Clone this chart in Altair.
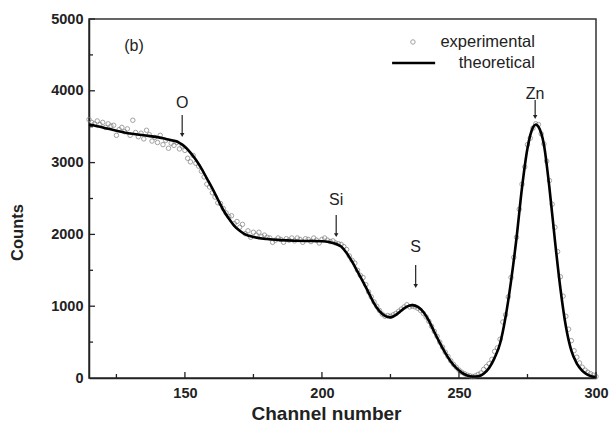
import altair as alt
import pandas as pd

# Theoretical curve (channel, counts)
theo_ch = [115, 120, 125, 130, 135, 140, 143, 146, 148, 150, 152, 154, 156, 158, 160, 162, 164, 166,
           168, 170, 172, 175, 180, 185, 190, 195, 200, 203, 205, 207, 209, 211, 213, 215, 217, 219,
           221, 223, 225, 227, 229, 231, 233, 235, 237, 239, 241, 243, 245, 247, 249, 251, 253, 255,
           257, 259, 261, 263, 265, 267, 269, 271, 273, 275, 277, 278, 279, 281, 283, 285, 287, 289,
           291, 293, 295, 297, 300]
theo_counts = [3530, 3490, 3445, 3405, 3380, 3355, 3330, 3305, 3275, 3220, 3140, 3040, 2920, 2780,
               2640, 2490, 2340, 2220, 2120, 2050, 2000, 1965, 1935, 1920, 1912, 1908, 1905, 1890,
               1870, 1830, 1740, 1620, 1480, 1340, 1190, 1040, 930, 865, 845, 880, 940, 995, 1015,
               990, 920, 800, 640, 490, 350, 230, 140, 75, 35, 20, 25, 60, 140, 280, 480, 850, 1350,
               1950, 2650, 3200, 3490, 3530, 3500, 3250, 2650, 1920, 1250, 720, 380, 200, 100, 45, 10]

# Experimental points, one per channel 115..300
exp_ch = list(range(115, 301))
exp_counts = [3600, 3560, 3540, 3580, 3530, 3560, 3490, 3540, 3510, 3520,
              3380, 3460, 3490, 3430, 3470, 3380, 3590, 3420, 3360, 3410,
              3330, 3450, 3390, 3300, 3350, 3280, 3380, 3250, 3310, 3200,
              3270, 3240, 3280, 3190, 3230, 3170, 3060, 3010, 3100, 2990,
              2950, 2880, 2800, 2700, 2660, 2580, 2520, 2440, 2430, 2360,
              2300, 2250, 2260, 2150, 2180, 2100, 2140, 2010, 2050, 1960,
              2030, 1990, 2030, 1970, 1990, 1960, 1950, 1890, 1920, 1950,
              1930, 1890, 1940, 1920, 1950, 1910, 1950, 1930, 1890, 1940,
              1930, 1900, 1950, 1920, 1880, 1930, 1950, 1920, 1900, 1910,
              1880, 1870, 1860, 1830, 1790, 1700, 1640, 1600, 1500, 1430,
              1400, 1300, 1200, 1130, 1060, 1000, 940, 890, 860, 870,
              860, 880, 900, 930, 960, 990, 1020, 990, 1000, 990,
              970, 940, 900, 850, 790, 720, 650, 580, 500, 430,
              360, 300, 240, 190, 150, 110, 80, 60, 40, 30,
              20, 30, 50, 70, 120, 160, 200, 260, 370, 420,
              540, 780, 880, 1130, 1400, 1680, 1960, 2350, 2700, 2940,
              3250, 3340, 3480, 3540, 3530, 3400, 3260, 3020, 2750, 2420,
              2100, 1760, 1410, 1140, 860, 680, 520, 380, 290, 210,
              150, 110, 80, 60, 40, 20]

# Axis tick values
x_major = [150, 200, 250, 300]
x_minor = [125, 175, 225, 275]
y_major = [1000, 2000, 3000, 4000, 5000]
y_minor = [500, 1500, 2500, 3500, 4500]

# Element annotations
ann_text = ["O", "Si", "S", "Zn"]
ann_x = [149, 205.2, 234.2, 277.8]
ann_y = [3830, 2479, 1825, 3955]
arrow_top = [3663, 2270, 1574, 3872]
arrow_bot = [3384, 1990, 1281, 3635]

panel_label = ["(b)"]
panel_x = [131.4]
panel_y = [4624]

legend_labels = ["experimental", "theoretical"]
legend_text_x = [277.7, 277.7]
legend_y = [4680, 4387]
legend_marker_x = [233.2]
legend_line_x = [225.6]
legend_line_x2 = [241.3]

FONT = "Liberation Sans"
W, H = 507, 359
PT_COLOR = "#7a7a7a"

xs = alt.Scale(domain=[115, 300], nice=False, zero=False)
ys = alt.Scale(domain=[0, 5000], nice=False)

theo_df = pd.DataFrame({"ch": theo_ch, "c": theo_counts})
exp_df = pd.DataFrame({"ch": exp_ch, "c": exp_counts})

base_x = alt.X("ch:Q", scale=xs, title="Channel number",
               axis=alt.Axis(values=x_major, ticks=False, format="d", labelFont=FONT,
                             labelFontSize=14.5, labelFontWeight="bold", labelColor="#222",
                             labelPadding=8, labelFlush=False, titleFont=FONT, titleFontSize=19,
                             titleFontWeight="bold", titleColor="#222", titlePadding=5,
                             domainColor="#222", domainWidth=1.5, grid=False,
                             titleX=237))
base_y = alt.Y("c:Q", scale=ys, title="Counts",
               axis=alt.Axis(values=[0] + y_major, ticks=False, format="d", labelFont=FONT,
                             labelFontSize=14.5, labelFontWeight="bold", labelColor="#222",
                             labelPadding=6, labelFlush=False, titleFont=FONT, titleFontSize=16.5,
                             titleFontWeight="bold", titleColor="#222",
                             titleX=-64, titleY=213, titleBaseline="bottom",
                             domainColor="#222", domainWidth=1.5, grid=False))

exp_layer = alt.Chart(exp_df).mark_point(shape="circle", filled=False, color=PT_COLOR,
                                         size=20, strokeWidth=1).encode(x=base_x, y=base_y)
theo_layer = alt.Chart(theo_df).mark_line(color="black", strokeWidth=2.6,
                                          interpolate="monotone").encode(
    x=alt.X("ch:Q", scale=xs), y=alt.Y("c:Q", scale=ys))

# inward ticks
xt_major = alt.Chart(pd.DataFrame({"v": x_major})).mark_rule(color="#222", strokeWidth=1.3).encode(
    x=alt.X("v:Q", scale=xs), y=alt.value(H), y2=alt.value(H - 6))
xt_minor = alt.Chart(pd.DataFrame({"v": x_minor})).mark_rule(color="#222", strokeWidth=1.3).encode(
    x=alt.X("v:Q", scale=xs), y=alt.value(H), y2=alt.value(H - 4))
yt_major = alt.Chart(pd.DataFrame({"v": y_major})).mark_rule(color="#222", strokeWidth=1.3).encode(
    y=alt.Y("v:Q", scale=ys), x=alt.value(0), x2=alt.value(6))
yt_minor = alt.Chart(pd.DataFrame({"v": y_minor})).mark_rule(color="#222", strokeWidth=1.3).encode(
    y=alt.Y("v:Q", scale=ys), x=alt.value(0), x2=alt.value(4))

ann_df = pd.DataFrame({"t": ann_text, "x": ann_x, "y": ann_y, "a1": arrow_top, "a2": arrow_bot})
ann_txt = alt.Chart(ann_df).mark_text(font=FONT, fontSize=16, color="#222").encode(
    x=alt.X("x:Q", scale=xs), y=alt.Y("y:Q", scale=ys), text="t:N")
ann_rule = alt.Chart(ann_df).mark_rule(color="#222", strokeWidth=1.2).encode(
    x=alt.X("x:Q", scale=xs), y=alt.Y("a1:Q", scale=ys), y2="a2:Q")
ann_head = alt.Chart(ann_df).mark_point(shape="triangle-down", filled=True, color="#222",
                                        size=20, opacity=1).encode(
    x=alt.X("x:Q", scale=xs), y=alt.Y("a2:Q", scale=ys))

panel = alt.Chart(pd.DataFrame({"t": panel_label, "x": panel_x, "y": panel_y})).mark_text(
    font=FONT, fontSize=16, color="#222").encode(
    x=alt.X("x:Q", scale=xs), y=alt.Y("y:Q", scale=ys), text="t:N")

leg_txt = alt.Chart(pd.DataFrame({"t": legend_labels, "x": legend_text_x, "y": legend_y})).mark_text(
    font=FONT, fontSize=16.5, color="#222", align="right").encode(
    x=alt.X("x:Q", scale=xs), y=alt.Y("y:Q", scale=ys), text="t:N")
leg_pt = alt.Chart(pd.DataFrame({"x": legend_marker_x, "y": legend_y[:1]})).mark_point(
    shape="circle", filled=False, color=PT_COLOR, size=20, strokeWidth=1).encode(
    x=alt.X("x:Q", scale=xs), y=alt.Y("y:Q", scale=ys))
leg_line = alt.Chart(pd.DataFrame({"x": legend_line_x, "x2": legend_line_x2,
                                   "y": legend_y[1:]})).mark_rule(
    color="black", strokeWidth=2.6).encode(
    x=alt.X("x:Q", scale=xs), x2="x2:Q", y=alt.Y("y:Q", scale=ys))

chart = alt.layer(
    exp_layer, theo_layer, xt_major, xt_minor, yt_major, yt_minor,
    ann_txt, ann_rule, ann_head, panel, leg_txt, leg_pt, leg_line
).properties(
    width=W, height=H,
    padding={"left": 89, "top": 19, "right": 13, "bottom": 49},
    autosize=alt.AutoSizeParams(type="none"),
    background="white"
).configure_view(stroke="#333", strokeWidth=1.5)

chart.save("out.html", embed_options={"renderer": "svg", "actions": False})
